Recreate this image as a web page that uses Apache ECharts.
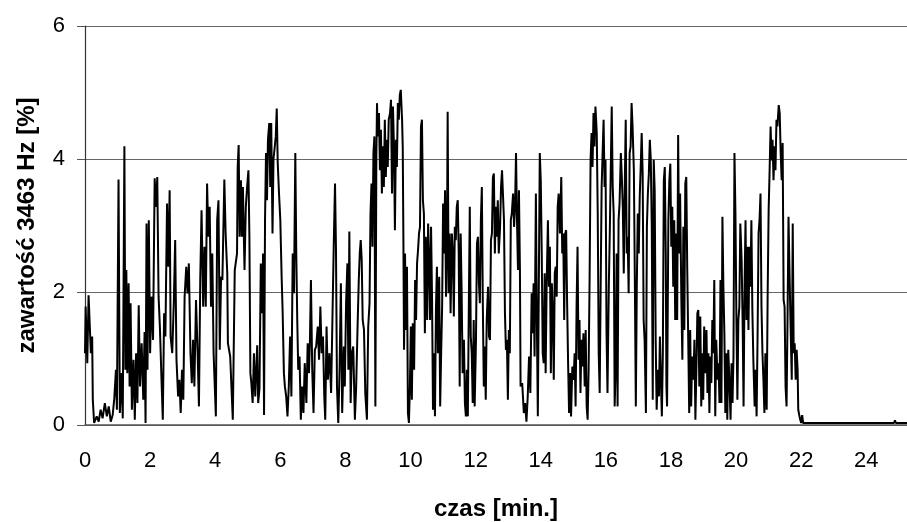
<!DOCTYPE html>
<html>
<head>
<meta charset="utf-8">
<script src="https://cdn.jsdelivr.net/npm/echarts@6/dist/echarts.min.js"></script>
<style>
  html, body { margin: 0; padding: 0; background: #fff; }
  #main { width: 907px; height: 522px; }
</style>
</head>
<body>
<div id="main"></div>
<script>
// [czas min, zawartosc %] - odczyty z wykresu, po kawalku
var odcinek1 = [
  [0.00,1.08],[0.02,1.78],[0.07,0.93],[0.11,1.95],[0.15,1.93],[0.18,1.08],[0.22,1.33],[0.24,0.38],[0.28,0.03],[0.36,0.13],
  [0.42,0.05],[0.48,0.23],[0.54,0.10],[0.61,0.33],[0.67,0.13],[0.73,0.28],[0.79,0.05],[0.85,0.15],[0.90,0.40],[0.95,0.83],
  [0.98,0.23],[1.03,3.69],[1.07,0.18],[1.12,0.78],[1.16,0.10],[1.21,4.19],[1.24,0.83],[1.27,2.33],[1.30,0.78],[1.34,2.13],
  [1.37,0.58],[1.40,1.83],[1.44,0.23],[1.49,0.98],[1.53,0.08],[1.57,1.08],[1.61,0.33],[1.65,1.80],[1.69,0.58],[1.74,1.23],
  [1.79,0.38],[1.83,1.40],[1.86,0.03],[1.89,3.03],[1.92,0.83],[1.96,3.08],[2.00,1.08],[2.04,1.93],[2.09,1.28],[2.14,3.71],
  [2.18,3.28],[2.22,3.73],[2.26,1.93],[2.30,1.48],[2.35,0.68],[2.39,0.08],[2.43,1.68],[2.47,1.33],[2.52,3.33],[2.56,2.38],
  [2.60,3.53],[2.63,1.33],[2.68,1.08],[2.73,1.88],[2.77,2.78],[2.81,0.98],[2.86,0.43],[2.90,0.68],[2.94,0.18],[2.98,0.83],
  [3.02,0.38],[3.06,1.93],[3.11,2.38],[3.15,1.98],[3.19,2.43],[3.24,1.08],[3.28,0.63],[3.32,1.28],[3.36,0.58],[3.41,1.88],
  [3.46,1.08],[3.50,0.28],[3.54,2.18],[3.58,3.23],[3.63,1.78],[3.67,2.68],[3.71,1.78],[3.75,3.63],[3.79,2.83],[3.83,3.28],
  [3.87,1.78],[3.91,2.58],[3.95,1.08],[4.02,0.13],[4.06,3.08],[4.10,3.38],[4.14,1.13],[4.18,2.23],[4.22,2.18],[4.28,3.69],
  [4.32,2.88],[4.37,2.28]
];
var odcinek2 = [
  [4.39,1.23],[4.46,1.03],[4.54,0.08],[4.60,2.33],[4.67,2.58],[4.69,3.88],[4.72,4.21],[4.75,2.83],[4.79,3.68],[4.82,2.83],
  [4.85,3.58],[4.90,2.33],[4.94,3.28],[4.98,3.58],[5.02,3.83],[5.05,2.83],[5.08,0.78],[5.11,0.63],[5.15,0.33],[5.19,1.08],
  [5.23,0.43],[5.29,1.20],[5.32,0.33],[5.36,0.55],[5.40,2.43],[5.44,1.68],[5.47,2.58],[5.50,0.15],[5.53,3.08],[5.56,4.09],
  [5.59,3.38],[5.62,4.29],[5.66,4.54],[5.69,3.58],[5.72,4.54],[5.76,2.88],[5.79,4.00],[5.83,4.19],[5.86,4.34],[5.89,4.76],
  [5.92,3.94],[5.96,3.48],[6.00,3.08],[6.04,2.23],[6.07,1.73],[6.11,0.78],[6.14,0.58],[6.18,0.43],[6.22,0.13],[6.26,0.58],
  [6.30,1.33],[6.34,0.43],[6.38,2.58],[6.42,1.98],[6.46,4.09],[6.49,2.58],[6.52,1.58],[6.55,0.83],[6.59,1.03],[6.63,0.08],
  [6.67,0.58],[6.71,0.18],[6.75,0.93],[6.80,0.33],[6.84,1.23],[6.88,0.78],[6.91,1.28],[6.94,2.18],[6.98,0.83],[7.02,0.18],
  [7.06,1.13],[7.10,1.18],[7.15,1.48],[7.19,0.98],[7.23,1.78],[7.27,1.08],[7.31,1.33],[7.35,0.43],[7.38,0.08],[7.42,1.48],
  [7.46,0.68],[7.51,1.08],[7.56,0.48],[7.60,1.58],[7.64,2.68],[7.68,3.63],[7.71,2.63],[7.74,0.58],[7.78,0.03],[7.82,0.83],
  [7.86,2.13],[7.90,0.18],[7.95,1.18],[7.98,0.58],[8.02,1.83],[8.06,2.43],[8.09,0.83],[8.12,2.91],[8.16,0.33],[8.20,1.08],
  [8.24,1.18],[8.29,0.08],[8.33,0.58],[8.37,1.43],[8.41,2.18],[8.44,2.58],[8.47,2.78],[8.50,2.48],[8.53,1.58],[8.57,1.43],
  [8.61,0.48],[8.66,0.08],[8.70,1.48],[8.74,1.83],[8.77,3.18],[8.80,3.63],[8.83,2.68],[8.86,4.09],[8.89,4.34]
];
var odcinek3 = [
  [8.92,0.28],[8.95,4.04],[8.97,4.84],[8.99,4.34],[9.03,4.69],[9.06,3.83],[9.09,4.44],[9.12,3.48],[9.15,4.19],[9.18,3.58],
  [9.21,4.59],[9.24,3.73],[9.27,4.29],[9.30,3.88],[9.33,4.59],[9.37,4.69],[9.40,4.89],[9.43,3.48],[9.46,4.79],[9.49,4.19],
  [9.52,2.93],[9.55,4.29],[9.58,3.88],[9.61,4.84],[9.64,4.59],[9.67,4.96],[9.70,5.04],[9.74,4.59],[9.76,4.19],[9.78,2.83],
  [9.80,1.13],[9.83,2.58],[9.86,1.43],[9.89,2.38],[9.92,0.18],[9.95,0.03],[9.98,0.58],[10.01,1.48],[10.04,0.38],[10.07,1.53],
  [10.11,0.83],[10.14,2.18],[10.17,1.58],[10.20,2.43],[10.23,2.63],[10.26,2.88],[10.29,2.98],[10.32,4.49],[10.35,4.59],[10.38,3.38],
  [10.41,3.18],[10.44,1.38],[10.47,2.83],[10.51,1.58],[10.54,3.03],[10.57,2.48],[10.60,1.58],[10.63,2.98],[10.66,1.93],[10.69,0.23],
  [10.72,1.08],[10.75,0.13],[10.78,1.73],[10.81,2.38],[10.84,1.08],[10.88,2.23],[10.91,0.28],[10.94,1.08],[10.97,1.78],[11.00,3.33],
  [11.03,2.58],[11.06,3.53],[11.09,1.93],[11.12,2.83],[11.14,4.71],[11.17,1.98],[11.20,2.88],[11.23,1.68],[11.27,2.88],[11.30,2.58],
  [11.33,1.63],[11.36,2.98],[11.39,2.78],[11.42,3.28],[11.45,3.38],[11.48,2.58],[11.51,0.58],[11.54,2.88],[11.57,1.98],[11.60,0.78],
  [11.64,1.28],[11.67,0.33],[11.70,0.13],[11.73,0.83],[11.76,0.13],[11.79,1.78],[11.82,3.28],[11.85,1.33],[11.88,1.08],[11.91,0.33],
  [11.94,1.58],[11.97,0.28],[12.01,1.28],[12.04,2.73],[12.07,2.83],[12.10,2.13],[12.13,1.83],[12.16,3.08],[12.19,3.58],[12.22,1.83],
  [12.25,0.58],[12.28,1.18],[12.31,0.38],[12.34,1.58],[12.38,2.08],[12.41,1.33],[12.44,1.28],[12.47,2.78],[12.50,2.88],[12.53,3.73],
  [12.56,3.78],[12.59,2.58],[12.62,3.28],[12.65,2.83],[12.68,3.38],[12.71,2.58],[12.75,2.98],[12.78,3.58],[12.81,3.83],[12.84,3.83],
  [12.87,3.08],[12.90,1.68],[12.93,1.13],[12.96,1.28],[12.99,0.38],[13.02,1.43],[13.05,1.08],[13.08,3.08],[13.11,3.18],[13.15,3.48],
  [13.18,2.98],[13.21,3.28],[13.24,4.09],[13.27,3.08],[13.30,2.33],[13.33,3.53],[13.36,2.33],[13.38,0.58]
];
var odcinek4 = [
  [13.43,0.63],[13.48,0.18],[13.52,0.33],[13.56,0.05],[13.60,0.43],[13.64,1.03],[13.68,0.48],[13.72,1.98],[13.75,1.38],[13.78,2.13],
  [13.81,1.03],[13.85,3.48],[13.88,1.58],[13.91,0.13],[13.94,2.08],[13.97,4.09],[14.00,3.68],[14.03,2.58],[14.06,1.08],[14.09,0.93],
  [14.12,2.28],[14.15,0.78],[14.18,2.08],[14.22,3.08],[14.25,2.08],[14.28,2.68],[14.31,0.78],[14.34,2.13],[14.37,1.68],[14.40,0.68],
  [14.43,2.28],[14.46,2.38],[14.49,1.93],[14.52,3.28],[14.55,3.48],[14.59,2.88],[14.63,3.73],[14.66,2.58],[14.69,2.88],[14.72,1.58],
  [14.75,2.88],[14.78,2.93],[14.81,1.83],[14.84,0.93],[14.87,0.18],[14.90,0.78],[14.93,0.13],[14.97,0.88],[15.01,0.68],[15.04,1.08],
  [15.07,0.28],[15.10,1.78],[15.13,2.68],[15.16,0.98],[15.19,1.58],[15.22,0.48],[15.25,1.28],[15.28,0.88],[15.31,1.38],[15.35,0.58],
  [15.38,1.43],[15.41,0.28],[15.44,0.08],[15.47,0.83],[15.50,2.18],[15.53,3.99],[15.56,4.39],[15.59,3.88],[15.62,4.69],[15.65,4.19],
  [15.68,4.79],[15.72,4.39],[15.75,3.18],[15.78,1.08],[15.81,0.48],[15.84,2.08],[15.87,3.58],[15.90,4.09],[15.93,4.59],[15.96,3.58],
  [15.99,3.99],[16.02,1.38],[16.05,0.48],[16.09,2.08],[16.12,2.88],[16.15,3.83],[16.18,4.79],[16.21,3.58],[16.24,3.18],[16.27,0.28],
  [16.30,0.83],[16.33,2.58],[16.36,0.28],[16.39,3.08],[16.42,3.33],[16.46,4.09],[16.49,3.73],[16.52,3.28],[16.55,2.28],[16.58,3.58],
  [16.61,4.59],[16.64,2.58],[16.67,2.83],[16.70,1.98],[16.73,4.09],[16.76,4.19],[16.79,4.84],[16.82,4.49],[16.86,3.83],[16.89,2.18],
  [16.92,0.28],[16.95,2.08],[16.98,3.18],[17.01,2.58],[17.04,3.43],[17.07,3.88],[17.10,4.39],[17.13,3.78],[17.16,1.58],[17.19,1.28],
  [17.23,0.18],[17.26,2.98],[17.29,3.48],[17.32,3.78],[17.35,4.29],[17.38,3.99],[17.41,2.98],[17.44,0.38],[17.47,3.99],[17.50,3.53],
  [17.53,1.28],[17.56,0.23],[17.60,0.83],[17.63,0.43],[17.66,1.33],[17.69,0.68],[17.72,0.13],[17.75,1.08],[17.78,3.68],[17.81,3.88],
  [17.84,2.58],[17.86,0.58],[17.88,0.28]
];
var odcinek5 = [
  [17.92,3.08],[17.95,3.68],[17.98,3.93],[18.01,2.68],[18.04,3.28],[18.07,2.08],[18.10,3.08],[18.13,1.58],[18.16,2.88],[18.19,1.58],
  [18.22,4.36],[18.25,2.58],[18.28,3.48],[18.32,1.83],[18.35,0.98],[18.38,2.98],[18.41,1.43],[18.44,3.63],[18.47,3.73],[18.50,2.33],
  [18.53,1.28],[18.56,0.18],[18.59,1.43],[18.62,0.28],[18.65,1.03],[18.69,0.68],[18.72,1.28],[18.75,0.08],[18.78,0.83],[18.81,1.68],
  [18.84,1.73],[18.87,0.58],[18.90,1.63],[18.93,0.28],[18.96,1.08],[18.99,0.38],[19.02,1.48],[19.06,0.78],[19.09,1.43],[19.12,0.48],
  [19.15,1.08],[19.18,0.18],[19.21,1.03],[19.24,0.63],[19.27,1.58],[19.30,1.08],[19.33,2.18],[19.36,0.13],[19.39,1.28],[19.43,0.68],
  [19.46,0.93],[19.49,0.33],[19.52,2.18],[19.55,0.33],[19.58,3.13],[19.61,2.08],[19.64,1.38],[19.67,0.18],[19.70,1.08],[19.73,0.08],
  [19.76,1.13],[19.80,0.58],[19.83,0.08],[19.86,0.93],[19.89,0.33],[19.92,1.03],[19.95,4.09],[19.98,3.18],[20.01,1.58],[20.04,0.38],
  [20.07,1.58],[20.10,1.78],[20.13,3.03],[20.17,2.48],[20.20,1.58],[20.23,0.28],[20.26,2.08],[20.29,3.08],[20.32,1.58],[20.35,2.68],
  [20.38,1.43],[20.41,2.68],[20.44,2.08],[20.47,3.08],[20.50,1.73],[20.53,0.98],[20.57,0.28],[20.60,0.83],[20.63,0.13],[20.66,1.33],
  [20.69,2.88],[20.72,3.08],[20.75,3.48],[20.78,1.78],[20.81,1.08],[20.84,0.68],[20.87,0.18],[20.90,1.08],[20.94,0.23],[20.97,1.98],
  [21.00,3.23],[21.03,3.83],[21.06,4.49],[21.09,3.98],[21.12,4.29],[21.15,3.68],[21.18,4.19],[21.21,3.83],[21.24,4.59],[21.27,4.49],
  [21.31,4.81],[21.34,4.69],[21.37,4.09],[21.40,3.68],[21.43,4.24],[21.46,1.88],[21.49,1.78],[21.52,0.58],[21.55,0.28],[21.58,1.58],
  [21.61,3.13],[21.64,2.33],[21.67,1.58],[21.71,0.68],[21.74,3.03],[21.77,1.08],[21.80,1.23],[21.83,0.68],[21.86,1.13],[21.89,0.83],
  [21.91,0.23],[21.94,0.15],[21.97,0.08],[22.00,0.03]
];
var ogon = [
  [22.03,0.15],[22.06,0.03],[24.85,0.03],[24.88,0.07],[24.91,0.03],[25.25,0.03]
];

var yTicks = [0, 2, 4, 6];
var xMax = 25.25;

var pomiary = odcinek1.concat(odcinek2, odcinek3, odcinek4, odcinek5, ogon);

var myChart = echarts.init(document.getElementById('main'));

var option = {
    animation: false,
    backgroundColor: '#fff',
    textStyle: { fontFamily: 'Liberation Sans' },
    grid: {
        left: 85,
        right: 0,
        top: 26,
        bottom: 97,
        outerBoundsMode: 'none'
    },
    xAxis: {
        type: 'value',
        min: 0,
        max: xMax,
        interval: 2,
        name: 'czas [min.]',
        nameLocation: 'middle',
        nameGap: 72,
        nameTextStyle: { fontSize: 24, fontWeight: 'bold', color: '#000', fontFamily: 'Liberation Sans' },
        axisLine: { lineStyle: { color: '#555', width: 1.5 } },
        axisTick: { show: false },
        axisLabel: { fontSize: 22, color: '#000', margin: 25, showMaxLabel: false },
        splitLine: { show: false }
    },
    yAxis: {
        type: 'value',
        min: yTicks[0],
        max: yTicks[yTicks.length - 1],
        interval: 2,
        name: 'zawartość 3463 Hz [%]',
        nameLocation: 'middle',
        nameGap: 46,
        nameTextStyle: { fontSize: 24, fontWeight: 'bold', color: '#000', fontFamily: 'Liberation Sans' },
        axisLine: { show: true, lineStyle: { color: '#333', width: 1.2 } },
        axisTick: { show: true, inside: false, length: 8, lineStyle: { color: '#555' } },
        axisLabel: { fontSize: 22, color: '#000', margin: 20 },
        splitLine: { show: true, lineStyle: { color: '#666', width: 1 } }
    },
    series: [{
        type: 'line',
        data: pomiary,
        showSymbol: false,
        sampling: false,
        lineStyle: { color: '#000', width: 2 },
        z: 3
    }]
};

myChart.setOption(option);
</script>
</body>
</html>
